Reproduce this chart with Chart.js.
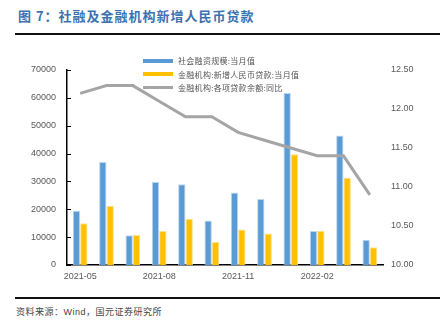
<!DOCTYPE html>
<html>
<head>
<meta charset="utf-8">
<script src="https://cdn.jsdelivr.net/npm/chart.js@4.4.1/dist/chart.umd.min.js"></script>
<style>
  body { margin: 0; width: 440px; height: 332px; background: #fff; position: relative; overflow: hidden; font-family: 'Noto Sans CJK SC', sans-serif; }
  .title { position: absolute; left: 18px; top: 6px; font-size: 13px; font-weight: bold; color: #3c72b0; letter-spacing: 1px; }
  .rule-top { position: absolute; left: 15px; right: 0; top: 33px; height: 2px; background: #111; }
  .rule-bot { position: absolute; left: 15px; right: 0; top: 297px; height: 2px; background: #111; }
  .source { position: absolute; left: 16px; top: 305px; font-size: 9px; color: #444; letter-spacing: 0.5px; }
  .source span { font-family: 'Liberation Sans', sans-serif; }
  #box { position: absolute; left: 0; top: 40px; width: 440px; height: 250px; }
  .legend { position: absolute; left: 143px; top: 54px; font-size: 8px; color: #555; line-height: 13.5px; letter-spacing: 0.3px; }
  .legend div { display: flex; align-items: center; height: 13.5px; }
  .legend i { display: inline-block; width: 30px; margin-right: 5px; }
</style>
</head>
<body>
<div class="title">图 7：社融及金融机构新增人民币贷款</div>
<div class="rule-top"></div>
<div id="box"><canvas id="c"></canvas></div>
<div class="legend">
  <div><i style="height:4px;background:#5b9bd5"></i>社会融资规模:当月值</div>
  <div><i style="height:4px;background:#ffc000"></i>金融机构:新增人民币贷款:当月值</div>
  <div><i style="height:3px;background:#a5a5a5"></i>金融机构:各项贷款余额:同比</div>
</div>
<div class="rule-bot"></div>
<div class="source">资料来源：<span>Wind</span>，国元证券研究所</div>

<script>
// 月份
var months = ['2021-05','2021-06','2021-07','2021-08','2021-09','2021-10','2021-11','2021-12','2022-01','2022-02','2022-03','2022-04'];
// 社会融资规模:当月值 (亿元)
var tsfValues = [19500, 37000, 10700, 29800, 29000, 16000, 26000, 23700, 61700, 12200, 46500, 9100];
// 金融机构:新增人民币贷款:当月值 (亿元)
var loanValues = [15000, 21200, 10800, 12200, 16600, 8300, 12700, 11300, 39800, 12300, 31300, 6400];
// 金融机构:各项贷款余额:同比 (%)
var loanYoY = [12.2, 12.3, 12.3, 12.1, 11.9, 11.9, 11.7, 11.6, 11.5, 11.4, 11.4, 10.9];

var tickFont = { family: "'Liberation Sans', Arial, sans-serif", size: 9 };
var tickColor = '#595959';

// 左轴内侧刻度线
var innerTicks = {
  id: 'innerTicks',
  afterDraw: function(chart) {
    var y = chart.scales.y, ctx = chart.ctx;
    ctx.save();
    ctx.strokeStyle = '#000';
    ctx.lineWidth = 1;
    y.ticks.forEach(function(t) {
      var py = Math.round(y.getPixelForValue(t.value)) + 0.5;
      ctx.beginPath();
      ctx.moveTo(y.right, py);
      ctx.lineTo(y.right + 4, py);
      ctx.stroke();
    });
    ctx.restore();
  }
};

new Chart(document.getElementById('c'), {
  type: 'bar',
  data: {
    labels: months,
    datasets: [
      { type: 'line', label: '金融机构:各项贷款余额:同比', data: loanYoY, yAxisID: 'y2', borderColor: '#a5a5a5', borderWidth: 3, pointRadius: 0, tension: 0, order: 0 },
      { label: '社会融资规模:当月值', data: tsfValues, yAxisID: 'y', backgroundColor: '#5b9bd5', borderColor: '#bcd6ee', borderWidth: { top: 1, left: 1, right: 1, bottom: 0 }, categoryPercentage: 0.56, barPercentage: 1, order: 1 },
      { label: '金融机构:新增人民币贷款:当月值', data: loanValues, yAxisID: 'y', backgroundColor: '#ffc000', borderColor: '#ffe08a', borderWidth: { top: 1, left: 1, right: 1, bottom: 0 }, categoryPercentage: 0.56, barPercentage: 1, order: 1 }
    ]
  },
  options: {
    responsive: true,
    maintainAspectRatio: false,
    animation: false,
    layout: { padding: { top: 30, left: 0, right: 0, bottom: 0 } },
    plugins: { legend: { display: false }, tooltip: { enabled: false } },
    scales: {
      x: {
        grid: { display: false, drawTicks: false },
        border: { color: '#000', width: 1.5 },
        ticks: {
          font: tickFont, color: tickColor, maxRotation: 0, autoSkip: false, padding: 6,
          callback: function(v, i) { return i % 3 === 0 ? months[i] : ''; }
        },
        afterFit: function(s) { s.height = 25; }
      },
      y: {
        position: 'left', min: 0, max: 70000,
        grid: { display: false, drawTicks: false },
        border: { color: '#000', width: 1.5 },
        ticks: { stepSize: 10000, font: tickFont, color: tickColor, padding: 11, callback: function(v) { return String(v); } },
        afterFit: function(s) { s.width = 67; }
      },
      y2: {
        position: 'right', min: 10, max: 12.5,
        grid: { display: false, drawTicks: false },
        border: { display: false },
        ticks: { stepSize: 0.5, font: tickFont, color: tickColor, padding: 8, callback: function(v) { return v.toFixed(2); } },
        afterFit: function(s) { s.width = 57; }
      }
    }
  },
  plugins: [innerTicks]
});
</script>
</body>
</html>
